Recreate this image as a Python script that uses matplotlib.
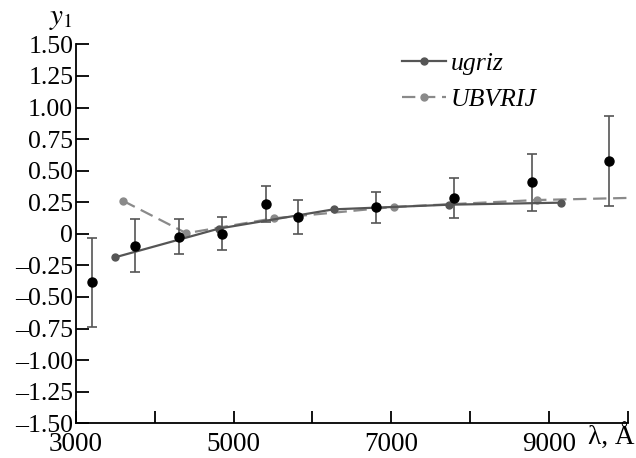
import matplotlib
matplotlib.use('Agg')
import matplotlib.pyplot as plt
from matplotlib.ticker import FixedLocator, FuncFormatter

plt.rcParams['font.family'] = ['Liberation Serif', 'DejaVu Serif']
plt.rcParams['mathtext.fontset'] = 'stix'

# observed points with error bars
obs_lam = [3200, 3752, 4305, 4858, 5405, 5820, 6811, 7796, 8782, 9760]
obs_y = [-0.38, -0.095, -0.022, 0.002, 0.234, 0.13, 0.211, 0.283, 0.408, 0.576]
obs_top = [-0.03, 0.116, 0.118, 0.13, 0.379, 0.272, 0.335, 0.442, 0.632, 0.933]
obs_bot = [-0.74, -0.30, -0.16, -0.125, 0.095, -0.005, 0.088, 0.123, 0.178, 0.221]

# ugriz model
ugriz_lam = [3495, 4815, 6268, 7738, 9150]
ugriz_y = [-0.186, 0.042, 0.194, 0.231, 0.247]

# UBVRIJ model
ubv_lam = [3595, 4400, 5508, 7032, 8850, 12500]
ubv_y = [0.262, 0.005, 0.123, 0.213, 0.268, 0.32]

xticks_major = [3000, 5000, 7000, 9000]
xticks_minor = [4000, 6000, 8000, 10000]
yticks = [-1.5, -1.25, -1.0, -0.75, -0.5, -0.25, 0, 0.25, 0.5, 0.75, 1.0, 1.25, 1.5]

fig = plt.figure(figsize=(6.36, 4.58), dpi=100)
ax = fig.add_axes([0.1195, 0.0758, 0.8675, 0.8272])

yerr = [[y - b for y, b in zip(obs_y, obs_bot)], [t - y for y, t in zip(obs_y, obs_top)]]
ax.errorbar(obs_lam, obs_y, yerr=yerr, fmt='o', color='black', ms=6.5,
            ecolor='#555555', elinewidth=1.2, capsize=3.5, capthick=1.2, zorder=4)

ax.plot(ugriz_lam, ugriz_y, '-o', color='#555555', lw=1.6, ms=5, label='ugriz', zorder=3)
ax.plot(ubv_lam, ubv_y, '--o', color='#8a8a8a', lw=1.6, ms=5, dashes=(6, 3), label='UBVRIJ', zorder=2)

ax.set_xlim(3000, 10000)
ax.set_ylim(-1.5, 1.5)
ax.spines['top'].set_visible(False)
ax.spines['right'].set_visible(False)
ax.spines['left'].set_linewidth(1.3)
ax.spines['bottom'].set_linewidth(1.3)

ax.xaxis.set_major_locator(FixedLocator(xticks_major))
ax.xaxis.set_minor_locator(FixedLocator(xticks_minor))
ax.yaxis.set_major_locator(FixedLocator(yticks))

def yfmt(v, pos):
    if abs(v) < 1e-9:
        return '0'
    return ('%.2f' % v).replace('-', '\u2013')

ax.yaxis.set_major_formatter(FuncFormatter(yfmt))
ax.tick_params(axis='both', which='both', direction='in', length=9, width=1.3, labelsize=18.5)
ax.tick_params(axis='x', which='major', pad=6.5, labelsize=19.5)
ax.tick_params(axis='y', pad=2)

fig.text(0.115, 0.958, '$y_1$', fontsize=21, ha='right', va='center')
fig.text(0.997, 0.046, '\u03bb, \u00c5', fontsize=19.5, ha='right', va='center')

leg = ax.legend(loc='upper left', bbox_to_anchor=(0.612, 0.915), bbox_transform=fig.transFigure,
                frameon=False, fontsize=18.5, handlelength=1.7, handletextpad=0.2,
                labelspacing=0.5, borderpad=0)
for t in leg.get_texts():
    t.set_fontstyle('italic')

fig.savefig('out.png', dpi=100)
